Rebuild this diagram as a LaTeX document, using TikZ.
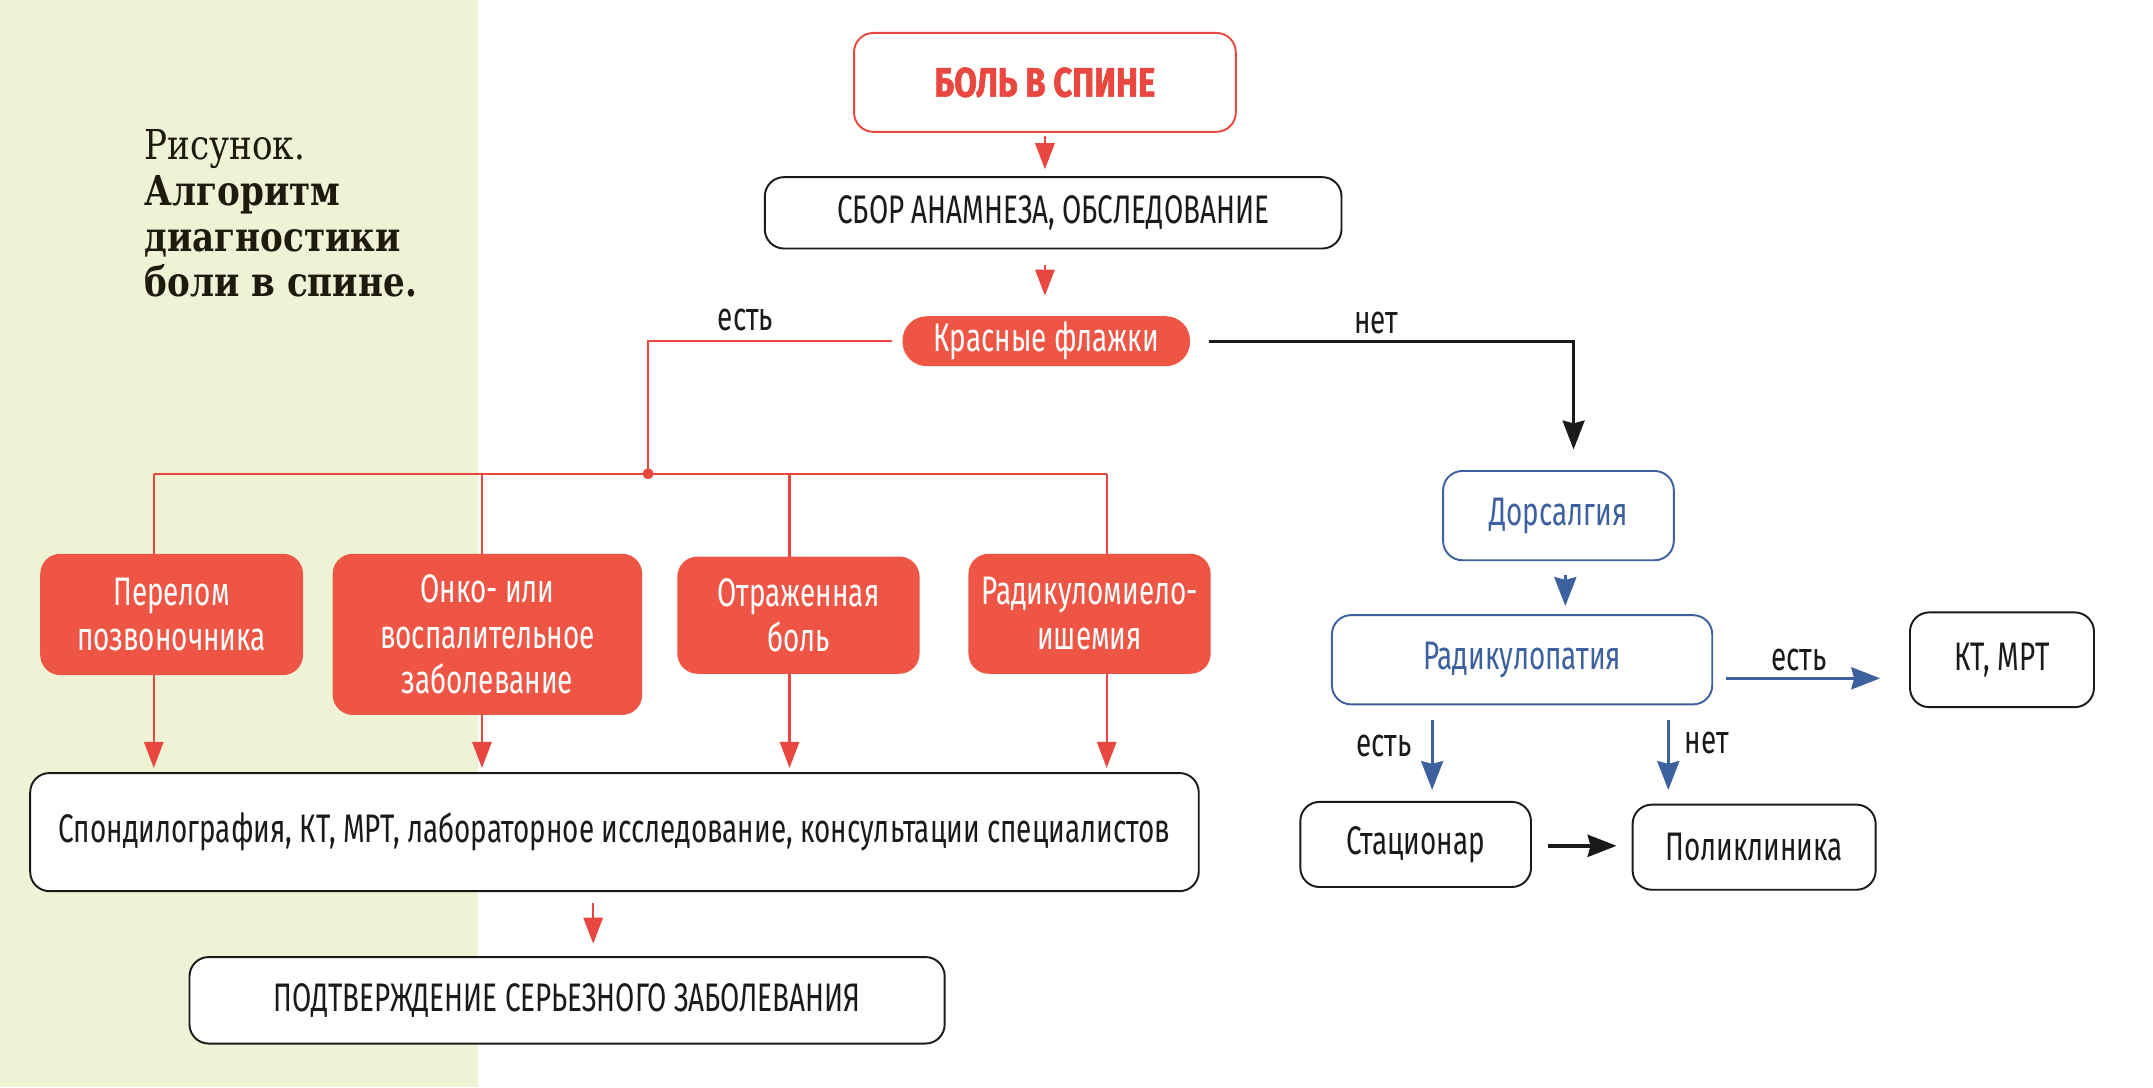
\documentclass[tikz,border=0pt]{standalone}
\usepackage{fontspec}
\usetikzlibrary{arrows.meta}
\setmainfont{Fira Sans}
\newfontfamily\cond[FakeStretch=0.70]{Fira Sans}
\newfontfamily\condbold[FakeStretch=0.8,BoldFeatures={FakeBold=1.5}]{Fira Sans}
\newfontfamily\capserif[FakeStretch=0.83]{DejaVu Serif}
\definecolor{bandgreen}{HTML}{EFF3D5}
\definecolor{myred}{HTML}{EF5544}
\definecolor{linered}{HTML}{E9473F}
\definecolor{myblue}{HTML}{3D609E}
\definecolor{ink}{HTML}{1A1A1A}
\definecolor{titleink}{HTML}{1E1A0E}
\tikzset{
  box/.style={draw=ink, line width=1.4pt, rounded corners=14pt, fill=white, align=center,
    inner sep=0pt, font=\cond\fontsize{29}{33}\selectfont, text=ink},
  redbox/.style={box, fill=myred, draw=myred, text=white},
  bluebox/.style={box, draw=myblue, text=myblue},
  redln/.style={draw=linered, line width=1.7pt},
  redarr/.style={redln, -{Triangle[length=19pt,width=14pt]}},
  bluearr/.style={draw=myblue, line width=2.2pt, -{Stealth[length=21pt,width=16pt,inset=2pt]}},
  blackarr/.style={draw=ink, line width=2.2pt, -{Stealth[length=21pt,width=16pt,inset=2pt]}},
  lbl/.style={font=\cond\fontsize{29}{33}\selectfont, text=ink, inner sep=0pt},
  ttl/.style={anchor=base west, inner sep=0pt, text=titleink, font=\capserif\fontsize{30}{33}\selectfont},
  ttlb/.style={ttl, font=\capserif\bfseries\fontsize{30}{33}\selectfont},
}
\begin{document}
\begin{tikzpicture}[x=1pt,y=-1pt]
\useasboundingbox (0,0) rectangle (1568,792);
\fill[white] (0,0) rectangle (1568,792);
\fill[bandgreen] (0,0) rectangle (348,792);

% title
\node[ttl] (t1) at (105,116) {Рисунок.};
\node[ttlb] (t2) at (105,150) {Алгоритм};
\node[ttlb] (t3) at (105,183) {диагностики};
\node[ttlb] (t4) at (105,216) {боли в спине.};

% main column
\node[box, draw=linered, text=linered, minimum width=278pt, minimum height=72pt,
      font=\condbold\bfseries\fontsize{30}{33}\selectfont] (bol) at (761,60) {БОЛЬ В СПИНЕ};
\node[box, minimum width=420pt, minimum height=52pt] (sbor) at (767,155) {СБОР АНАМНЕЗА, ОБСЛЕДОВАНИЕ};
\node[redbox, rounded corners=17pt, minimum width=208pt, minimum height=35pt] (flag) at (762,248.5) {Красные флажки};

\node[redbox, minimum width=190pt, minimum height=87pt] (per) at (125,447.5) {Перелом\\позвоночника};
\node[redbox, minimum width=224pt, minimum height=116pt] (onko) at (355,462) {Онко- или\\воспалительное\\заболевание};
\node[redbox, minimum width=175pt, minimum height=84pt] (otr) at (581.5,448) {Отраженная\\боль};
\node[redbox, minimum width=175pt, minimum height=86pt] (rad) at (793.5,447) {Радикуломиело-\\ишемия};

\node[box, minimum width=851pt, minimum height=86pt] (spon) at (447.5,606) {Спондилография, КТ, МРТ, лабораторное исследование, консультации специалистов};
\node[box, minimum width=550pt, minimum height=63pt] (podt) at (413,728.5) {ПОДТВЕРЖДЕНИЕ СЕРЬЕЗНОГО ЗАБОЛЕВАНИЯ};

% right column
\node[bluebox, minimum width=168pt, minimum height=65pt] (dors) at (1135,375.5) {Дорсалгия};
\node[bluebox, minimum width=277pt, minimum height=65pt] (radp) at (1108.5,480.5) {Радикулопатия};
\node[box, minimum width=134pt, minimum height=69pt] (kt) at (1458,480.5) {КТ, МРТ};
\node[box, minimum width=168pt, minimum height=62pt] (stac) at (1031,615) {Стационар};
\node[box, minimum width=177pt, minimum height=62pt] (polik) at (1277.5,617) {Поликлиника};

% coordinates
\coordinate (jn) at (472,345);
\coordinate (h1) at (112,345);
\coordinate (h2) at (351,345);
\coordinate (h3) at (575,345);
\coordinate (h4) at (806,345);
\coordinate (ax) at (432,0);
\coordinate (nx) at (1146,0);
\coordinate (bx) at (1140,0);
\coordinate (ry) at (0,494);
\coordinate (lx) at (1043,0);
\coordinate (rx) at (1215,0);
\coordinate (sy) at (0,616);

% red connectors
\draw[redarr, shorten <=2pt, shorten >=5pt] (bol.south) -- (bol.south |- sbor.north);
\draw[redarr, shorten <=11pt, shorten >=15pt] (sbor.south -| bol.south) -- (flag.north -| bol.south);
\draw[redln, shorten <=8pt] (flag.west) -| (jn);
\fill[linered] (jn) circle (4pt);
\draw[redln] (h1) -- (h4);
\draw[redln] (h1) -- (h1 |- per.north);
\draw[redln] (h2) -- (h2 |- onko.north);
\draw[redln] (h3) -- (h3 |- otr.north);
\draw[redln] (h4) -- (h4 |- rad.north);
\draw[redarr, shorten >=3pt] (h1 |- per.south) -- (h1 |- spon.north);
\draw[redarr, shorten >=3pt] (h2 |- onko.south) -- (h2 |- spon.north);
\draw[redarr, shorten >=3pt] (h3 |- otr.south) -- (h3 |- spon.north);
\draw[redarr, shorten >=3pt] (h4 |- rad.south) -- (h4 |- spon.north);
\draw[redarr, shorten <=8pt, shorten >=9pt] (spon.south -| ax) -- (podt.north -| ax);
\node[lbl] (l1) at (543,233) {есть};

% black / blue connectors
\draw[blackarr, shorten <=14pt, shorten >=15pt] (flag.east) -| (dors.north -| nx);
\node[lbl] (l2) at (1002,235) {нет};
\draw[bluearr, shorten <=10pt, shorten >=6pt] (dors.south -| bx) -- (radp.north -| bx);
\draw[bluearr, shorten <=9pt, shorten >=21pt] (radp.east |- ry) -- (kt.west |- ry);
\node[lbl] (l3) at (1310,481) {есть};
\draw[bluearr, shorten <=11pt, shorten >=8pt] (radp.south -| lx) -- (stac.north -| lx);
\draw[bluearr, shorten <=11pt, shorten >=10pt] (radp.south -| rx) -- (polik.north -| rx);
\node[lbl] (l4) at (1008,543) {есть};
\node[lbl] (l5) at (1243,541) {нет};
\draw[blackarr, line width=2.8pt, shorten <=12pt, shorten >=11pt] (stac.east |- sy) -- (polik.west |- sy);
\end{tikzpicture}
\end{document}
